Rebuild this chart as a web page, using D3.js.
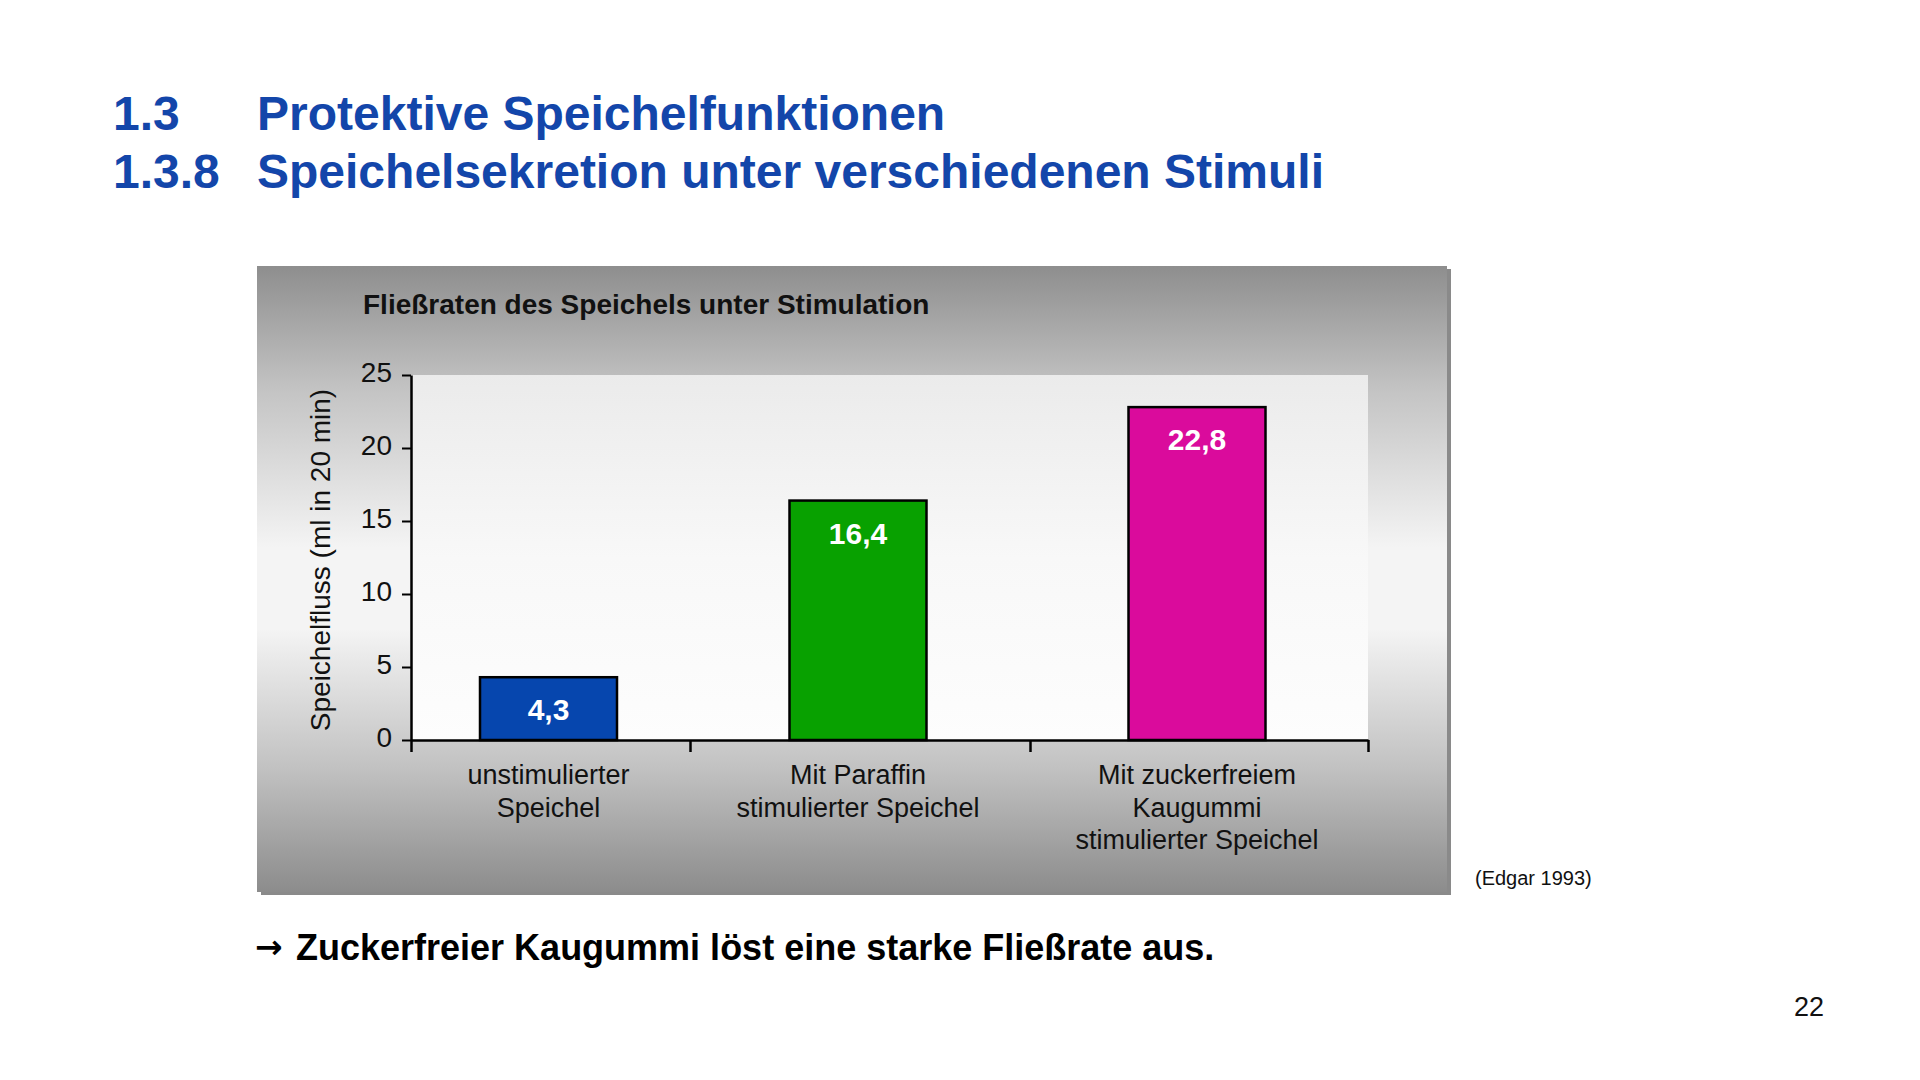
<!DOCTYPE html>
<html>
<head>
<meta charset="utf-8">
<script src="https://cdn.jsdelivr.net/npm/d3@7"></script>
<style>
  html, body { margin: 0; padding: 0; background: #ffffff; }
  svg { display: block; font-family: "Liberation Sans", Arial, sans-serif; }
</style>
</head>
<body>
<svg id="chart" width="1920" height="1080"></svg>
<script>
// ---- data ----
const categories = [
  ["unstimulierter", "Speichel"],
  ["Mit Paraffin", "stimulierter Speichel"],
  ["Mit zuckerfreiem", "Kaugummi", "stimulierter Speichel"]
];
const values = [4.3, 16.4, 22.8];
const valueLabels = ["4,3", "16,4", "22,8"];
const barColors = ["#0646ae", "#08a100", "#da0b9c"];
const yTicks = [0, 5, 10, 15, 20, 25];
const titleLines = [["1.3", "Protektive Speichelfunktionen"], ["1.3.8", "Speichelsekretion unter verschiedenen Stimuli"]];
const chartTitle = "Fließraten des Speichels unter Stimulation";
const yAxisTitle = "Speichelfluss (ml in 20 min)";
const conclusion = "Zuckerfreier Kaugummi löst eine starke Fließrate aus.";
const sourceNote = "(Edgar 1993)";
const pageNumber = "22";

const svg = d3.select("#chart");
const defs = svg.append("defs");

// gradients
const g1 = defs.append("linearGradient").attr("id", "boxGrad").attr("x1", 0).attr("y1", 0).attr("x2", 0).attr("y2", 1);
[[0, "#8e8e8e"], [0.2, "#c4c4c4"], [0.45, "#f4f4f4"], [0.58, "#f4f4f4"], [0.8, "#c2c2c2"], [1, "#8c8c8c"]]
  .forEach(([o, c]) => g1.append("stop").attr("offset", o).attr("stop-color", c));
const g2 = defs.append("linearGradient").attr("id", "plotGrad").attr("x1", 0).attr("y1", 0).attr("x2", 0).attr("y2", 1);
[[0, "#ebebeb"], [0.5, "#f8f8f8"], [1, "#fdfdfd"]]
  .forEach(([o, c]) => g2.append("stop").attr("offset", o).attr("stop-color", c));

// ---- titles ----
const titleColor = "#1346aa";
titleLines.forEach((ln, i) => {
  const yb = 130 + i * 58;
  svg.append("text").attr("x", 113).attr("y", yb).attr("fill", titleColor)
    .attr("font-size", 48).attr("font-weight", "bold").text(ln[0]);
  svg.append("text").attr("x", 257).attr("y", yb).attr("fill", titleColor)
    .attr("font-size", 48).attr("font-weight", "bold").text(ln[1]);
});

// ---- chart box ----
const box = { x: 257, y: 266, w: 1190, h: 626 };
svg.append("rect").attr("x", box.x + 4).attr("y", box.y + 3).attr("width", box.w).attr("height", box.h).attr("fill", "#8a8a8a");
svg.append("rect").attr("x", box.x).attr("y", box.y).attr("width", box.w).attr("height", box.h).attr("fill", "url(#boxGrad)");

// ---- scales ----
const plot = { left: 411, right: 1368, top: 375, bottom: 740 };
const y = d3.scaleLinear().domain([0, 25]).range([plot.bottom, plot.top]);
// category band boundaries (bands are not equally wide in the original)
const x = d3.scaleLinear().domain([0, 1, 2, 3]).range([plot.left, 690, 1030, plot.right]);
const barWidth = 137;
const barShift = -2;

svg.append("rect").attr("x", plot.left).attr("y", plot.top)
  .attr("width", plot.right - plot.left).attr("height", plot.bottom - plot.top)
  .attr("fill", "url(#plotGrad)");

// chart title
svg.append("text").attr("x", 363).attr("y", 314).attr("font-size", 28).attr("font-weight", "bold")
  .attr("fill", "#111").text(chartTitle);

// bars
svg.append("g").selectAll("rect").data(values).join("rect")
  .attr("x", (d, i) => x(i + 0.5) - barWidth / 2 + barShift)
  .attr("y", d => y(d))
  .attr("width", barWidth)
  .attr("height", d => y(0) - y(d))
  .attr("fill", (d, i) => barColors[i])
  .attr("stroke", "#000").attr("stroke-width", 2.5);

// value labels
svg.append("g").selectAll("text").data(values).join("text")
  .attr("x", (d, i) => x(i + 0.5) + barShift)
  .attr("y", d => y(d) + 43)
  .attr("text-anchor", "middle").attr("font-size", 30).attr("font-weight", "bold")
  .attr("fill", "#ffffff")
  .text((d, i) => valueLabels[i]);

// y axis
const yAxis = svg.append("g").attr("transform", `translate(${plot.left},0)`)
  .call(d3.axisLeft(y).tickValues(yTicks).tickSize(9).tickSizeOuter(0).tickPadding(10));
yAxis.select(".domain").attr("stroke", "#000").attr("stroke-width", 2.5);
yAxis.selectAll(".tick line").attr("stroke", "#000").attr("stroke-width", 2);
yAxis.selectAll(".tick text").attr("font-size", 28).attr("fill", "#111").attr("dy", "0.22em")
  .attr("font-family", "Liberation Sans, Arial, sans-serif");

// x axis (band boundaries)
const xAxis = svg.append("g").attr("transform", `translate(0,${plot.bottom})`)
  .call(d3.axisBottom(x).tickValues([0, 1, 2, 3]).tickFormat("").tickSize(12).tickSizeOuter(0));
xAxis.select(".domain").attr("stroke", "#000").attr("stroke-width", 2.5);
xAxis.selectAll(".tick line").attr("stroke", "#000").attr("stroke-width", 2.5);

// category labels
const catG = svg.append("g");
categories.forEach((lines, i) => {
  const t = catG.append("text").attr("text-anchor", "middle").attr("font-size", 27).attr("fill", "#111");
  lines.forEach((s, j) => t.append("tspan").attr("x", x(i + 0.5) - 2).attr("y", 784 + j * 32.5).text(s));
});

// y axis title
svg.append("text").attr("transform", "translate(330,560) rotate(-90)")
  .attr("text-anchor", "middle").attr("font-size", 28).attr("fill", "#111").text(yAxisTitle);

// source note
svg.append("text").attr("x", 1475).attr("y", 885).attr("font-size", 20).attr("fill", "#111").text(sourceNote);

// conclusion
svg.append("text").attr("x", 255).attr("y", 958).attr("font-size", 33).attr("font-weight", "bold")
  .attr("font-family", "DejaVu Sans, sans-serif").attr("fill", "#000").text("→");
svg.append("text").attr("x", 296).attr("y", 960).attr("font-size", 36).attr("font-weight", "bold")
  .attr("fill", "#000").text(conclusion);

// page number
svg.append("text").attr("x", 1824).attr("y", 1016).attr("text-anchor", "end").attr("font-size", 27)
  .attr("fill", "#111").text(pageNumber);
</script>
</body>
</html>
